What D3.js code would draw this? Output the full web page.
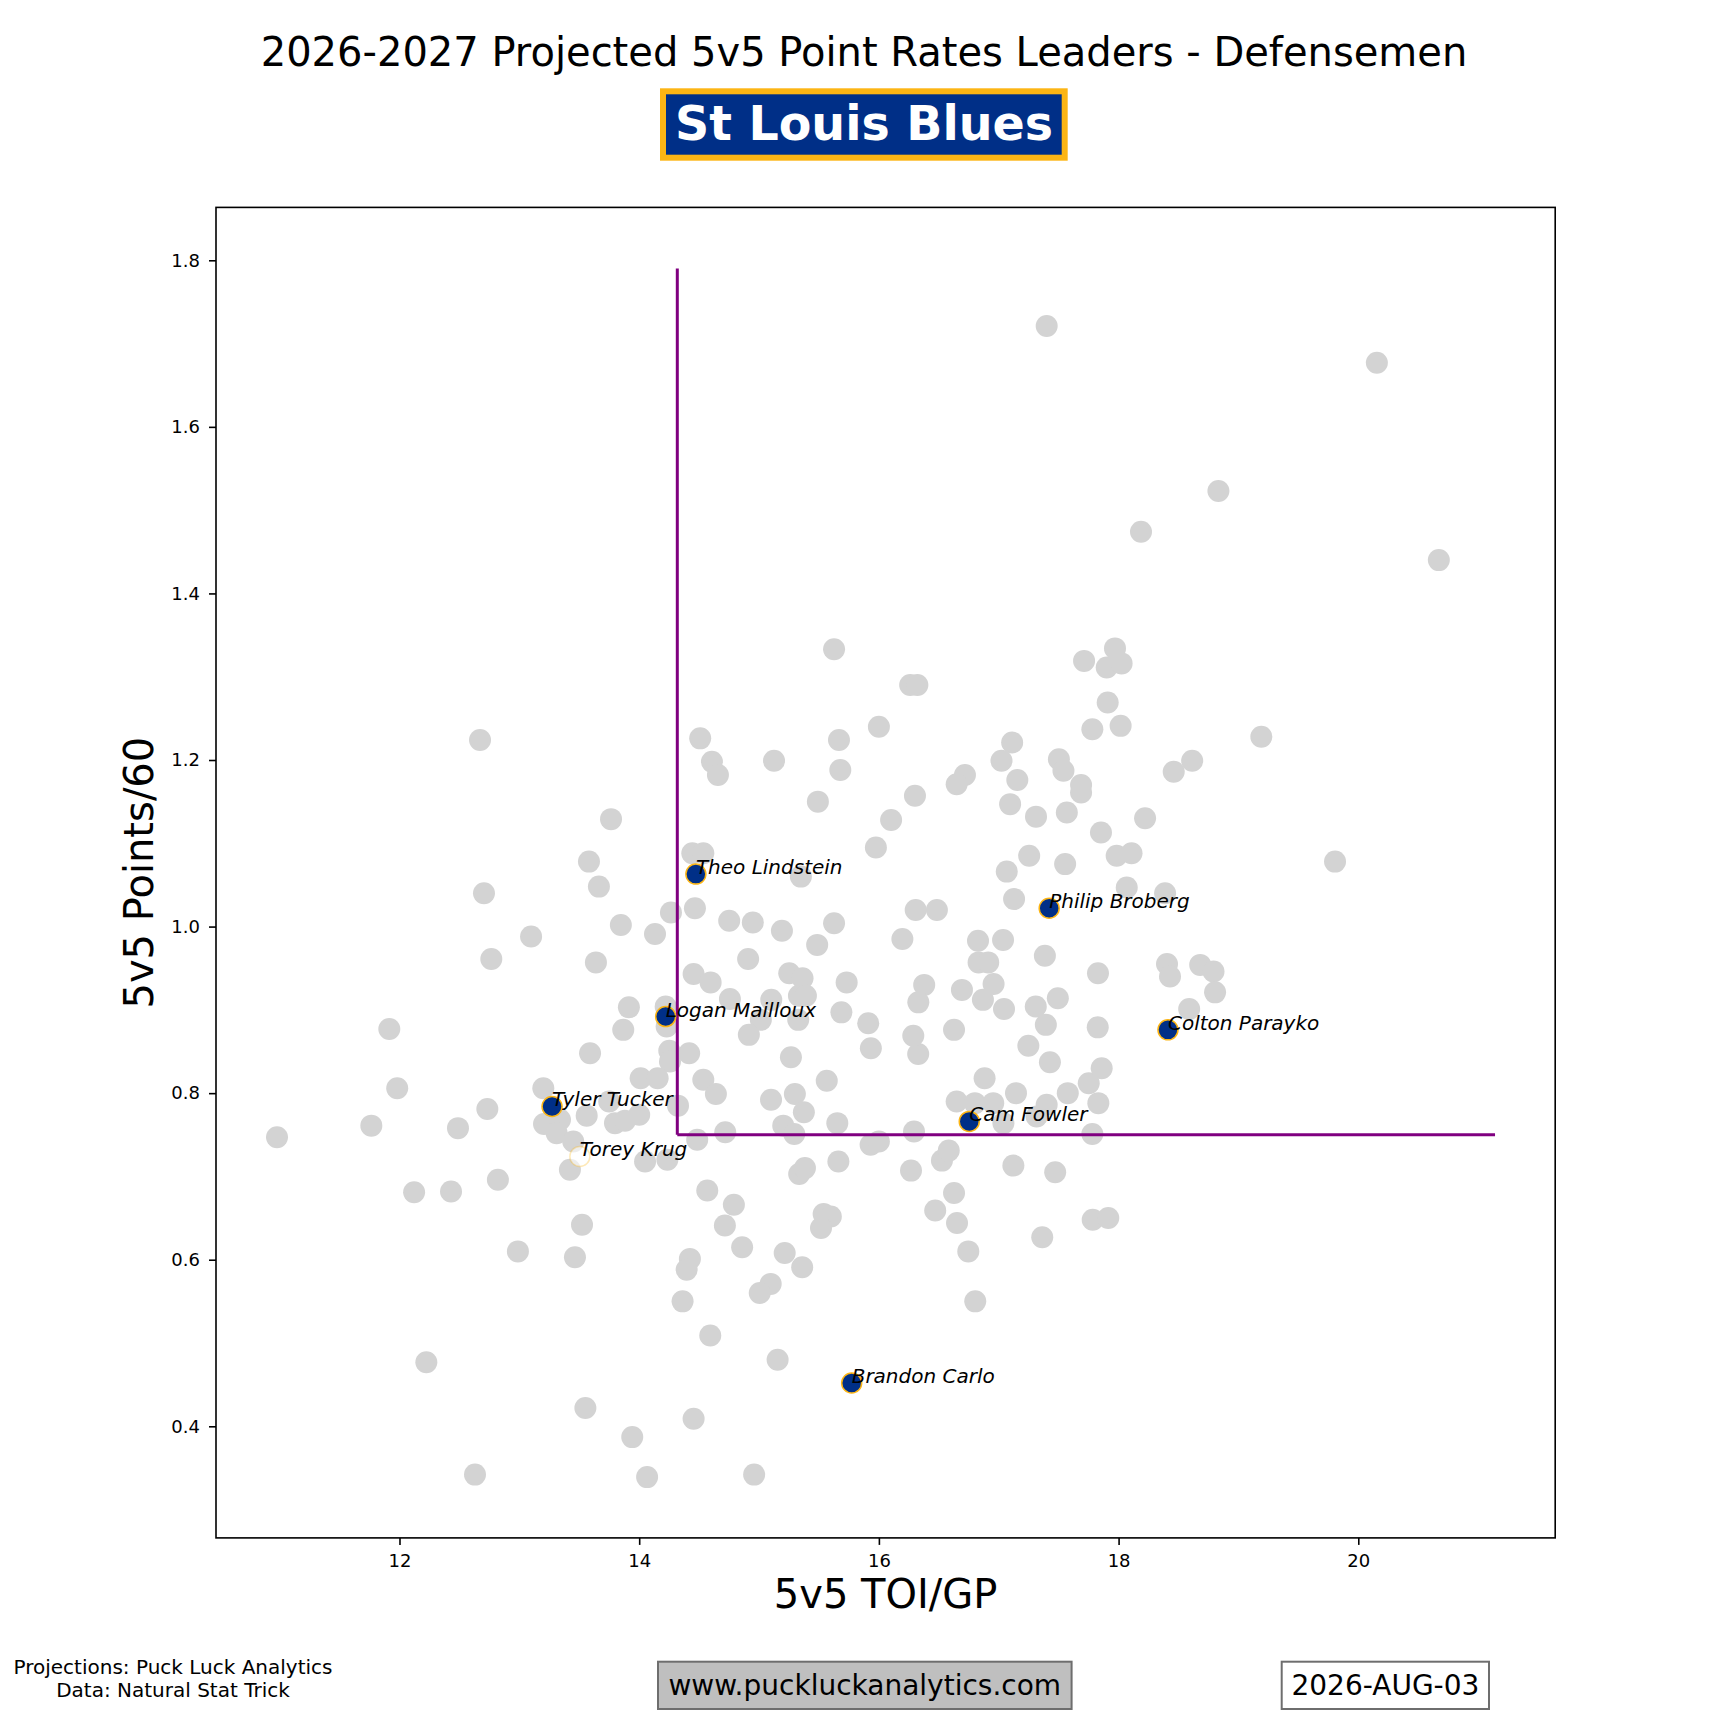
<!DOCTYPE html>
<html>
<head>
<meta charset="utf-8">
<script src="https://cdn.jsdelivr.net/npm/d3@7"></script>
<style>
  body { margin: 0; background: #ffffff; }
  text { font-family: "DejaVu Sans", sans-serif; }
</style>
</head>
<body>
<div id="scatter"></div>
<script>

// Chart data
// ============================================

// all other defensemen (grey dots): 5v5 TOI/GP and 5v5 Points/60
var leagueToi = [
    12.672, 13.765, 13.581, 13.664, 12.705, 13.847, 14.132, 14.265, 13.098, 12.766,
    13.639, 13.914, 14.221, 14.229, 13.867, 11.915, 13.590, 14.251, 14.257, 14.012,
    14.154, 11.981, 11.765, 10.978, 12.488, 12.733, 13.200, 13.206, 13.339, 13.311,
    13.450, 13.422, 13.562, 13.750, 13.798, 13.881, 14.000, 14.324, 14.049, 14.235,
    12.122, 12.430, 12.821, 13.523, 12.988, 13.464, 12.224, 13.551, 13.942, 12.630,
    14.066, 14.535, 14.640, 15.100, 15.299, 15.565, 15.374, 15.202, 15.294, 15.653,
    14.718, 14.484, 15.931, 16.000, 16.293, 16.649, 16.801, 16.954, 16.882, 17.039,
    17.144, 17.400, 17.316, 17.576, 17.751, 17.831, 17.781, 15.662, 15.335, 15.383,
    16.526, 16.583, 16.268, 17.122, 17.471, 14.568, 14.790, 14.715, 14.859, 16.627,
    16.470, 16.652, 16.746, 17.363, 17.784, 17.914, 15.539, 15.599, 15.517, 14.423,
    14.396, 14.362, 15.214, 15.360, 15.097, 15.006, 16.804, 14.593, 15.155, 14.454,
    14.959, 15.626, 16.261, 16.321, 17.712, 17.970, 17.901, 18.025, 17.909, 17.781,
    18.017, 16.000, 14.509, 15.667, 14.607, 14.657, 15.125, 15.678, 17.112, 17.023,
    17.155, 16.718, 16.649, 17.502, 17.540, 17.687, 17.687, 17.095, 17.311, 17.568,
    15.491, 16.301, 16.102, 17.853, 15.975, 17.254, 17.554, 17.067, 17.984, 18.108,
    14.443, 14.535, 15.349, 17.128, 18.068, 14.465, 14.751, 14.948, 15.191, 15.626,
    15.485, 16.307, 16.484, 16.196, 16.827, 17.036, 17.385, 17.828, 14.909, 14.454,
    14.596, 15.252, 15.363, 15.333, 15.391, 15.731, 14.757, 15.102, 15.687, 15.015,
    15.327, 14.915, 15.911, 15.933, 15.266, 14.417, 16.378, 16.329, 16.693, 16.627,
    16.832, 16.912, 16.957, 16.868, 17.044, 17.309, 17.493, 17.393, 17.826, 17.247,
    17.427, 17.859, 16.328, 16.287, 19.191, 18.614, 18.460, 18.221, 19.806, 18.388,
    18.404, 18.429, 18.681, 18.792, 18.805, 18.589, 17.400, 20.155, 18.833, 18.187,
    20.672
];

var leaguePts = [
    1.224, 1.129, 1.078, 1.048, 1.040, 1.002, 0.991, 1.017, 0.988, 0.961,
    0.957, 0.903, 0.904, 0.880, 0.876, 0.877, 0.848, 0.851, 0.838, 0.818,
    0.818, 0.806, 0.761, 0.747, 0.758, 0.781, 0.806, 0.763, 0.768, 0.752,
    0.742, 0.708, 0.773, 0.790, 0.764, 0.767, 0.774, 0.785, 0.718, 0.720,
    0.681, 0.682, 0.696, 0.642, 0.610, 0.603, 0.477, 0.422, 0.387, 0.342,
    0.339, 0.816, 0.799, 0.792, 0.799, 0.815, 0.777, 0.761, 0.751, 0.764,
    0.753, 0.744, 0.738, 0.742, 0.754, 0.790, 0.788, 0.788, 0.818, 0.764,
    0.800, 0.786, 0.772, 0.800, 0.812, 0.788, 0.751, 0.718, 0.703, 0.710,
    0.719, 0.731, 0.707, 0.713, 0.705, 0.683, 0.666, 0.641, 0.615, 0.680,
    0.659, 0.644, 0.610, 0.627, 0.648, 0.650, 0.655, 0.652, 0.638, 0.601,
    0.588, 0.550, 0.608, 0.591, 0.571, 0.560, 0.550, 0.509, 0.480, 0.409,
    0.342, 1.333, 1.290, 1.290, 1.319, 1.334, 1.311, 1.316, 1.269, 1.237,
    1.241, 1.240, 1.226, 1.224, 1.198, 1.182, 1.199, 1.188, 1.221, 1.199,
    1.176, 1.182, 1.171, 1.201, 1.187, 1.170, 1.161, 1.147, 1.132, 1.137,
    1.150, 1.157, 1.128, 1.113, 1.095, 1.085, 1.075, 1.066, 1.085, 1.088,
    1.088, 1.088, 1.060, 1.033, 1.047, 1.022, 1.007, 1.005, 0.995, 1.004,
    0.978, 1.020, 1.020, 0.985, 0.983, 0.984, 0.965, 0.944, 0.961, 0.943,
    0.933, 0.944, 0.938, 0.917, 0.917, 0.933, 0.913, 0.912, 0.897, 0.888,
    0.888, 0.870, 0.884, 0.854, 0.843, 0.848, 0.930, 0.909, 0.924, 0.876,
    0.957, 0.957, 0.931, 0.912, 0.901, 0.904, 0.914, 0.882, 0.879, 0.857,
    0.837, 0.830, 0.847, 0.869, 1.228, 1.199, 1.186, 1.130, 1.078, 1.040,
    0.955, 0.940, 0.954, 0.946, 0.921, 0.901, 1.721, 1.677, 1.523, 1.474,
    1.440
];

// team defensemen (highlighted)
var teamNames = ["Theo Lindstein", "Philip Broberg", "Logan Mailloux", "Colton Parayko",
    "Tyler Tucker", "Cam Fowler", "Brandon Carlo", "Torey Krug"];
var teamToi = [14.473, 17.421, 14.221, 18.412, 13.273, 16.754, 15.773, 13.505];
var teamPts = [1.063, 1.022, 0.892, 0.876, 0.784, 0.766, 0.452, 0.724];
var teamFaded = [false, false, false, false, false, false, false, true];

// threshold lines
var lineToi = 14.318;
var linePts = 0.75;
var lineTopPts = 1.79;
var lineEndToi = 21.141;

// axis ticks
var xTicks = [12, 14, 16, 18, 20];
var yTicks = [0.4, 0.6, 0.8, 1.0, 1.2, 1.4, 1.6, 1.8];

var teamName = "St Louis Blues";
var navy = "#002F87";
var gold = "#FCB514";

// Set up the chart
// ================================
var svgWidth = 1728;
var svgHeight = 1728;

var margin = { top: 207.4, right: 172.8, bottom: 190.1, left: 216 };
var chartWidth = svgWidth - margin.left - margin.right;
var chartHeight = svgHeight - margin.top - margin.bottom;

var svg = d3.select("#scatter")
    .append("svg")
    .attr("width", svgWidth)
    .attr("height", svgHeight);

var chartGroup = svg.append("g")
    .attr("transform", `translate(${margin.left}, ${margin.top})`);

// Scales and axes
// ============================================
var xScale = d3.scaleLinear().domain([10.469, 21.643]).range([0, chartWidth]);
var yScale = d3.scaleLinear().domain([0.266, 1.8635]).range([chartHeight, 0]);

var bottomAxis = d3.axisBottom(xScale)
    .tickValues(xTicks)
    .tickFormat(d3.format("d"))
    .tickSizeInner(7).tickSizeOuter(0)
    .tickPadding(9);

var leftAxis = d3.axisLeft(yScale)
    .tickValues(yTicks)
    .tickFormat(d3.format(".1f"))
    .tickSizeInner(7).tickSizeOuter(0)
    .tickPadding(9);

var xAxis = chartGroup.append("g")
    .attr("transform", `translate(0, ${chartHeight})`)
    .call(bottomAxis);

var yAxis = chartGroup.append("g")
    .call(leftAxis);

[xAxis, yAxis].forEach(ax => {
    ax.select(".domain").remove();
    ax.selectAll("line").attr("stroke", "#000").attr("stroke-width", 1.6);
    ax.selectAll("text")
        .attr("fill", "#000")
        .style("font-size", "18px")
        .style("font-family", "DejaVu Sans");
});

// grey dots for the league
// ===============================
chartGroup.append("g")
    .selectAll("circle")
    .data(leagueToi)
    .enter()
    .append("circle")
    .attr("cx", d => xScale(d))
    .attr("cy", (d, i) => yScale(leaguePts[i]))
    .attr("r", 11)
    .attr("fill", "#d3d3d3");

// threshold lines
// ===============================
chartGroup.append("line")
    .attr("x1", xScale(lineToi)).attr("x2", xScale(lineToi))
    .attr("y1", yScale(linePts)).attr("y2", yScale(lineTopPts))
    .attr("stroke", "#800080").attr("stroke-width", 3);

chartGroup.append("line")
    .attr("x1", xScale(lineToi)).attr("x2", xScale(lineEndToi))
    .attr("y1", yScale(linePts)).attr("y2", yScale(linePts))
    .attr("stroke", "#800080").attr("stroke-width", 3);

// team dots and names
// ===============================
var teamData = teamNames.map((n, i) => ({ name: n, toi: teamToi[i], pts: teamPts[i], faded: teamFaded[i] }));

chartGroup.append("g")
    .selectAll("circle")
    .data(teamData)
    .enter()
    .append("circle")
    .attr("cx", d => xScale(d.toi))
    .attr("cy", d => yScale(d.pts))
    .attr("r", 10)
    .attr("fill", d => d.faded ? "#ffffff" : navy)
    .attr("fill-opacity", d => d.faded ? 0.6 : 1)
    .attr("stroke", gold)
    .attr("stroke-opacity", d => d.faded ? 0.3 : 1)
    .attr("stroke-width", 1.5);

chartGroup.append("g")
    .selectAll("text")
    .data(teamData)
    .enter()
    .append("text")
    .attr("x", d => xScale(d.toi))
    .attr("y", d => yScale(d.pts))
    .style("font-size", "20px")
    .style("font-style", "italic")
    .attr("fill", "#000")
    .text(d => d.name);

// frame around the plot
chartGroup.append("rect")
    .attr("width", chartWidth)
    .attr("height", chartHeight)
    .attr("fill", "none")
    .attr("stroke", "#000")
    .attr("stroke-width", 1.6);

// Axis labels
// ==============================
svg.append("text")
    .attr("x", margin.left + chartWidth / 2)
    .attr("y", 1608)
    .attr("text-anchor", "middle")
    .style("font-size", "40px")
    .text("5v5 TOI/GP");

svg.append("text")
    .attr("transform", `translate(153, ${margin.top + chartHeight / 2}) rotate(-90)`)
    .attr("text-anchor", "middle")
    .style("font-size", "40px")
    .text("5v5 Points/60");

// Titles
// ==============================
svg.append("text")
    .attr("x", 864)
    .attr("y", 66)
    .attr("text-anchor", "middle")
    .style("font-size", "40px")
    .text("2026-2027 Projected 5v5 Point Rates Leaders - Defensemen");

svg.append("rect")
    .attr("x", 663).attr("y", 91.3)
    .attr("width", 401.7).attr("height", 66.4)
    .attr("fill", navy)
    .attr("stroke", gold)
    .attr("stroke-width", 6);

svg.append("text")
    .attr("x", 864)
    .attr("y", 139.5)
    .attr("text-anchor", "middle")
    .attr("fill", "#ffffff")
    .style("font-size", "47.5px")
    .style("font-weight", "bold")
    .text(teamName);

// Footer
// ==============================
var credits = svg.append("text")
    .attr("text-anchor", "middle")
    .style("font-size", "20px");
credits.append("tspan").attr("x", 173).attr("y", 1674).text("Projections: Puck Luck Analytics");
credits.append("tspan").attr("x", 173).attr("y", 1697).text("Data: Natural Stat Trick");

svg.append("rect")
    .attr("x", 658).attr("y", 1661.7)
    .attr("width", 413.6).attr("height", 47.3)
    .attr("fill", "#bfbfbf")
    .attr("stroke", "#6e6e6e")
    .attr("stroke-width", 2);

svg.append("text")
    .attr("x", 864.8)
    .attr("y", 1695)
    .attr("text-anchor", "middle")
    .style("font-size", "28px")
    .text("www.puckluckanalytics.com");

svg.append("rect")
    .attr("x", 1281.7).attr("y", 1661.7)
    .attr("width", 207.3).attr("height", 47.3)
    .attr("fill", "#ffffff")
    .attr("stroke", "#6e6e6e")
    .attr("stroke-width", 2);

svg.append("text")
    .attr("x", 1385.4)
    .attr("y", 1695)
    .attr("text-anchor", "middle")
    .style("font-size", "28px")
    .text("2026-AUG-03");

</script>
</body>
</html>
